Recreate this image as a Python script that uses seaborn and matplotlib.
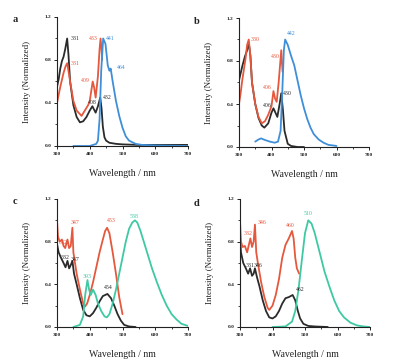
import matplotlib
matplotlib.use("Agg")
import matplotlib.pyplot as plt
from matplotlib.ticker import MultipleLocator
import seaborn as sns
import pandas as pd

# ---------------- data ----------------
# panel a
a_black_x = [300,305,310,315,320,325,331,335,340,350,360,370,380,390,400,408,413,418,425,432,436,440,445,450,460,480,500,550,600,650,700]
a_black_y = [0.55,0.62,0.72,0.79,0.83,0.90,1.00,0.85,0.60,0.38,0.27,0.22,0.23,0.27,0.33,0.37,0.34,0.31,0.37,0.45,0.35,0.18,0.08,0.05,0.03,0.02,0.015,0.01,0.01,0.01,0.01]
a_red_x = [300,310,320,326,331,335,340,350,360,375,385,395,400,405,409,413,418,425,430,433,436,438]
a_red_y = [0.40,0.55,0.68,0.74,0.77,0.70,0.60,0.42,0.33,0.28,0.33,0.38,0.42,0.52,0.60,0.55,0.45,0.65,0.90,1.00,0.90,0.80]
a_blue_x = [350,400,420,425,430,435,441,448,455,460,464,470,480,490,500,510,520,540,560,600,700]
a_blue_y = [0.0,0.0,0.02,0.05,0.25,0.70,1.00,0.95,0.75,0.70,0.72,0.60,0.42,0.28,0.17,0.09,0.05,0.02,0.01,0.005,0.0]

# panel b
b_black_x = [300,310,318,325,330,335,340,350,360,370,378,390,400,406,412,418,425,430,435,440,450,460,480,500]
b_black_y = [0.62,0.75,0.84,0.90,0.97,0.85,0.60,0.40,0.27,0.20,0.18,0.22,0.32,0.36,0.32,0.28,0.40,0.50,0.35,0.15,0.03,0.01,0.0,0.0]
b_red_x = [300,305,310,320,325,330,335,340,350,360,370,380,390,400,406,411,416,422,430,434]
b_red_y = [0.40,0.50,0.62,0.82,0.95,1.00,0.85,0.60,0.40,0.28,0.22,0.24,0.30,0.38,0.52,0.45,0.42,0.60,0.90,0.70]
b_blue_x = [350,360,368,380,395,410,420,428,433,438,442,450,460,470,480,490,500,510,520,530,545,560,575,600]
b_blue_y = [0.05,0.07,0.08,0.065,0.05,0.04,0.05,0.15,0.50,0.90,1.00,0.95,0.85,0.76,0.62,0.48,0.36,0.26,0.18,0.12,0.07,0.04,0.02,0.01]

# panel c
c_black_x = [300,305,312,320,326,332,337,342,347,352,360,370,380,390,400,410,420,430,440,454,465,475,485,495,505,520,540]
c_black_y = [0.78,0.70,0.65,0.60,0.56,0.62,0.55,0.58,0.62,0.50,0.40,0.27,0.16,0.11,0.10,0.13,0.18,0.24,0.29,0.31,0.27,0.20,0.12,0.06,0.02,0.005,0.0]
c_red_x = [300,303,308,315,320,325,332,337,342,347,350,355,360,370,380,385,392,400,410,420,430,440,447,453,460,470,480,490,500]
c_red_y = [1.00,0.85,0.80,0.82,0.76,0.74,0.82,0.74,0.76,0.93,0.70,0.60,0.50,0.35,0.22,0.19,0.22,0.30,0.42,0.56,0.70,0.82,0.90,0.93,0.88,0.70,0.50,0.28,0.12]
c_green_x = [350,370,380,386,393,398,403,410,418,425,435,445,452,460,470,480,490,500,510,520,530,538,545,555,565,575,590,605,620,635,650,665,680,700]
c_green_y = [0.0,0.02,0.10,0.30,0.44,0.35,0.30,0.35,0.30,0.22,0.15,0.10,0.09,0.12,0.22,0.35,0.50,0.65,0.80,0.92,0.98,1.00,0.98,0.90,0.80,0.70,0.55,0.42,0.30,0.20,0.12,0.07,0.03,0.01]

# panel d
d_black_x = [300,303,310,318,325,331,337,342,346,352,360,370,380,390,400,410,420,430,440,450,462,470,478,485,495,510,530,570]
d_black_y = [0.85,0.70,0.60,0.55,0.50,0.55,0.48,0.50,0.55,0.47,0.38,0.25,0.15,0.09,0.08,0.10,0.15,0.22,0.27,0.28,0.30,0.25,0.15,0.08,0.03,0.01,0.005,0.0]
d_red_x = [300,303,308,315,322,328,332,337,342,346,350,355,365,375,385,390,400,410,420,430,440,450,460,465,470,475,482]
d_red_y = [1.00,0.80,0.75,0.76,0.70,0.78,0.83,0.75,0.80,0.96,0.70,0.60,0.42,0.28,0.18,0.16,0.20,0.30,0.45,0.65,0.77,0.83,0.90,0.83,0.65,0.55,0.50]
d_green_x = [400,440,460,470,480,490,500,510,520,530,540,550,560,575,590,605,620,640,660,680,700]
d_green_y = [0.0,0.005,0.05,0.15,0.35,0.62,0.88,1.00,0.97,0.88,0.76,0.64,0.52,0.38,0.25,0.15,0.09,0.04,0.015,0.005,0.0]

BLACK = "#2b2b2b"
RED = "#e5583d"
BLUE = "#3f8fd8"
GREEN = "#3ec9a3"

# annotations: (text, x, y, color)
a_labels = [("331", 343, 1.00, BLACK), ("331", 343, 0.77, RED), ("409", 373, 0.61, RED),
            ("408", 395, 0.40, BLACK), ("432", 440, 0.45, BLACK), ("433", 398, 1.00, RED),
            ("441", 450, 1.00, BLUE), ("464", 484, 0.73, BLUE)]
b_labels = [("330", 335, 1.00, RED), ("430", 398, 0.84, RED), ("406", 374, 0.55, RED),
            ("406", 374, 0.39, BLACK), ("430", 434, 0.50, BLACK), ("442", 448, 1.06, BLUE)]
c_labels = [("332", 306, 0.79, RED), ("347", 342, 0.98, RED), ("332", 310, 0.65, BLACK),
            ("347", 342, 0.63, BLACK), ("393", 380, 0.47, GREEN), ("454", 444, 0.37, BLACK),
            ("453", 454, 1.00, RED), ("538", 521, 1.04, GREEN)]
d_labels = [("332", 312, 0.88, RED), ("346", 354, 0.98, RED), ("331", 317, 0.58, BLACK),
            ("346", 343, 0.58, BLACK), ("460", 441, 0.95, RED), ("462", 472, 0.355, BLACK),
            ("510", 495, 1.06, GREEN)]

panels = [
    ("a", [(a_black_x, a_black_y, BLACK), (a_red_x, a_red_y, RED), (a_blue_x, a_blue_y, BLUE)], a_labels,
     [57, 17, 188, 146], (15, 20)),
    ("b", [(b_black_x, b_black_y, BLACK), (b_red_x, b_red_y, RED), (b_blue_x, b_blue_y, BLUE)], b_labels,
     [239, 18, 369, 147], (197, 22)),
    ("c", [(c_black_x, c_black_y, BLACK), (c_red_x, c_red_y, RED), (c_green_x, c_green_y, GREEN)], c_labels,
     [57, 199, 188, 327], (15, 202)),
    ("d", [(d_black_x, d_black_y, BLACK), (d_red_x, d_red_y, RED), (d_green_x, d_green_y, GREEN)], d_labels,
     [240, 199, 370, 327], (197, 204)),
]

sns.set_theme(style="ticks")
plt.rcParams["font.family"] = ["Liberation Serif", "DejaVu Serif"]

W, H = 394, 363
fig = plt.figure(figsize=(W / 100, H / 100), dpi=100)
fig.patch.set_facecolor("white")

for letter, curves, labels, (x0, y0, x1, y1), (lx, ly) in panels:
    ax = fig.add_axes([x0 / W, (H - y1) / H, (x1 - x0) / W, (y1 - y0) / H])
    ax.set_facecolor("white")
    for xs, ys, col in curves:
        df = pd.DataFrame({"x": xs, "y": ys})
        sns.lineplot(data=df, x="x", y="y", ax=ax, color=col, lw=1.3,
                     sort=False, estimator=None)
    for txt, tx, ty, col in labels:
        ax.text(tx, ty, txt, color=col, fontsize=4.2, ha="left", va="center")
    ax.set_xlim(300, 700)
    ax.set_ylim(0, 1.2)
    ax.xaxis.set_major_locator(MultipleLocator(100))
    ax.xaxis.set_minor_locator(MultipleLocator(50))
    ax.yaxis.set_major_locator(MultipleLocator(0.4))
    ax.yaxis.set_minor_locator(MultipleLocator(0.2))
    ax.set_xticklabels([f"{int(v)}" for v in ax.get_xticks()])
    ax.set_yticklabels([f"{v:.1f}" for v in ax.get_yticks()])
    ax.tick_params(axis="both", which="major", labelsize=3.9, length=2.5, width=0.7,
                   pad=1.5, colors="#222222")
    ax.tick_params(axis="both", which="minor", length=1.5, width=0.6, colors="#222222")
    for lab in ax.get_xticklabels() + ax.get_yticklabels():
        lab.set_fontweight("bold")
    sns.despine(ax=ax)
    for sp in ("left", "bottom"):
        ax.spines[sp].set_linewidth(0.8)
        ax.spines[sp].set_color("#222222")
    ax.set_xlabel("Wavelength / nm", fontsize=7, color="#222222", labelpad=9.5)
    ax.set_ylabel("Intensity (Normalized)", fontsize=6.5, color="#222222", labelpad=10)
    fig.text(lx / W, 1 - ly / H, letter, fontsize=7.5, fontweight="bold",
             ha="center", va="center", color="#222222")

fig.savefig("out.png", dpi=100, facecolor="white")
